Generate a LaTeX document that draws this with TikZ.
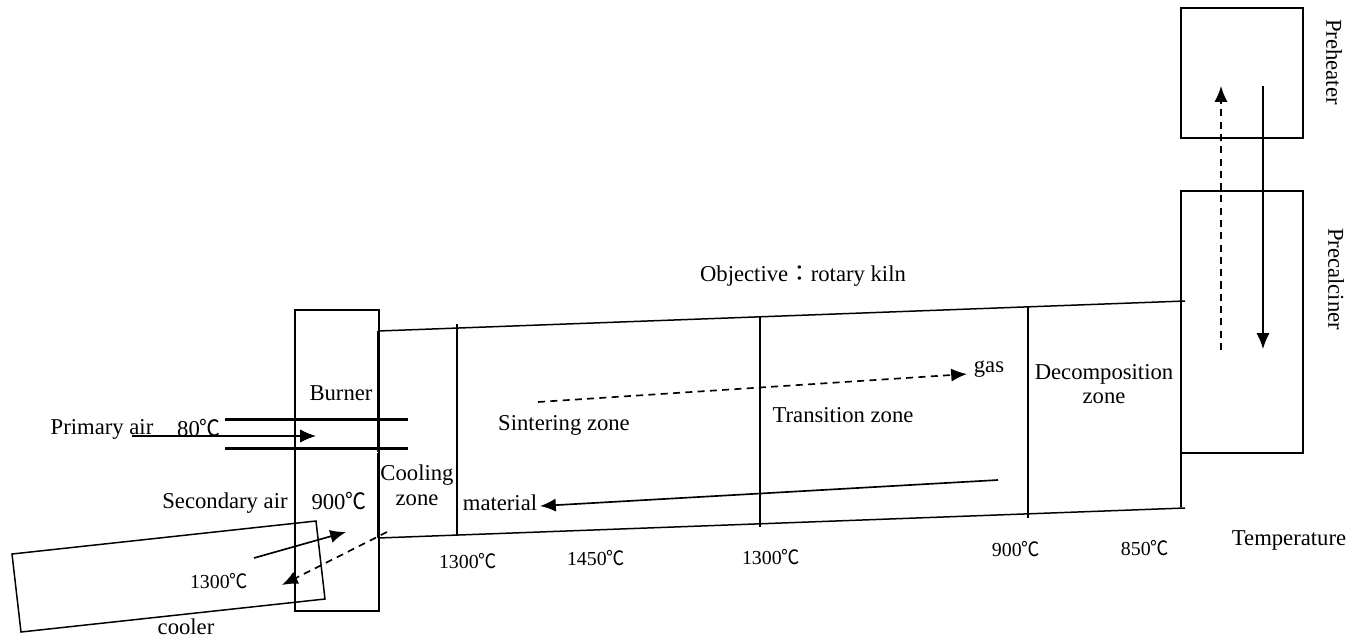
\documentclass[tikz,border=0pt]{standalone}
\usepackage{fontspec}
\setmainfont{Liberation Serif}
\newfontfamily\cjk{Noto Sans CJK SC}
\newfontfamily\cjktc{Noto Sans CJK TC}
\newcommand{\degc}{{\cjk\scalebox{0.92}[1]{℃}}}
\usepackage{tikz}
\usetikzlibrary{calc,positioning,arrows.meta}
\tikzset{
	txt/.style={inner sep=0pt,font=\fontsize{12.9}{15}\selectfont},
	smalltxt/.style={inner sep=0pt,font=\fontsize{11.3}{13}\selectfont},
	wall/.style={line width=1.7pt},
	flow/.style={line width=0.95pt,-{Latex[length=9pt,width=7.5pt]}},
	flowdash/.style={flow,dash pattern=on 4pt off 3pt}
}
\begin{document}
\begin{tikzpicture}[x=0.02cm,y=-0.02cm,line width=0.85pt]
		\useasboundingbox (0,0) rectangle (1357,637);
		
		% =========================================================
		% Preheater and precalciner
		% =========================================================
		\draw (1181,8) rectangle (1303,138);
		\draw (1181,191) rectangle (1303,453);
		\node[txt,rotate=-90] (preheater) at (1334,62) {Preheater};
		\node[txt,rotate=-90] (precalciner) at (1336,279) {Precalciner};
		
		% Flows through both
		\coordinate (GasA) at (1221,350);
		\coordinate (GasB) at (1221,86);
		\coordinate (MatA) at (1263,86);
		\coordinate (MatB) at (1263,349);
		\draw[flowdash] (GasA) -- (GasB);
		\draw[flow] (MatA) -- (MatB);
		
		% =========================================================
		% Rotary kiln
		% =========================================================
		\coordinate (KilnTL) at (378,331);
		\coordinate (KilnTR) at (1185,301);
		\coordinate (KilnBL) at (378,538);
		\coordinate (KilnBR) at (1185,508);
		\draw (KilnTL) -- (KilnTR);
		\draw (KilnBL) -- (KilnBR);
		\draw[line width=1.3pt] (1181,453) -- (1181,507);
		
		% Zone borders
		\draw (457,324) -- (457,536);
		\draw (760,317) -- (760,527);
		\draw (1028,307) -- (1028,518);
		
		% Kiln flows
		\coordinate (GasC) at (538,402);
		\coordinate (GasD) at (967,374);
		\coordinate (MatC) at (998,480);
		\coordinate (MatD) at (540,506);
		\draw[flowdash] (GasC) -- (GasD);
		\draw[flow] (MatC) -- (MatD);
		
		% Labels
		\node[txt] (objective) at (803,276) {Objective{\cjktc：}rotary kiln};
		\node[txt] (gas) at (989,369) {gas};
		\node[txt] (sintering) at (564,425) {Sintering zone};
		\node[txt] (transition) at (843,415) {Transition zone};
		\node[txt,align=center] (decomposition) at (1104,384) {Decomposition\\[-1pt]zone};
		\node[txt,align=center] (cooling) at (417,485) {Cooling\\[-1pt]zone};
		\node[txt] (material) at (500,503) {material};
		
		% Temperatures
		\node[smalltxt] (tempa) at (468,561) {1300\degc};
		\node[smalltxt] (tempb) at (596,558) {1450\degc};
		\node[smalltxt] (tempc) at (771,557) {1300\degc};
		\node[smalltxt] (tempd) at (1016,549) {900\degc};
		\node[smalltxt] (tempe) at (1145,548) {850\degc};
		\node[txt] (temperature) at (1289,540) {Temperature};
		
		% =========================================================
		% Burner
		% =========================================================
		\draw (295,310) rectangle (379,611);
		\draw[wall] (378.5,331) -- (378.5,452);
		\draw[wall] (378.5,453) -- (378.5,538);
		\draw[wall] (225,419) -- (408,419);
		\draw[wall] (225,448) -- (408,448);
		\coordinate (AirA) at (132,436);
		\coordinate (AirB) at (316,436);
		\draw[flow,line width=0.7pt] (AirA) -- (AirB);
		
		\node[txt] (burner) at (341,393) {Burner};
		\node[txt] (primary) at (102,429) {Primary air};
		\node[txt] (tempf) at (199,428) {80\degc};
		\node[txt] (secondary) at (225,503) {Secondary air};
		\node[txt] (tempg) at (339,501) {900\degc};
		
		% =========================================================
		% Cooler
		% =========================================================
		\draw (12,554) -- (316,521) -- (325,599) -- (21,632) -- cycle;
		\coordinate (HotA) at (254,558);
		\coordinate (HotB) at (346,532);
		\coordinate (BackA) at (387,532);
		\coordinate (BackB) at (282,585);
		\draw[flow] (HotA) -- (HotB);
		\draw[flowdash] (BackA) -- (BackB);
		\node[smalltxt] (temph) at (219,581) {1300\degc};
		\node[txt] (cooler) at (186,627) {cooler};
		
	\end{tikzpicture}
\end{document}
